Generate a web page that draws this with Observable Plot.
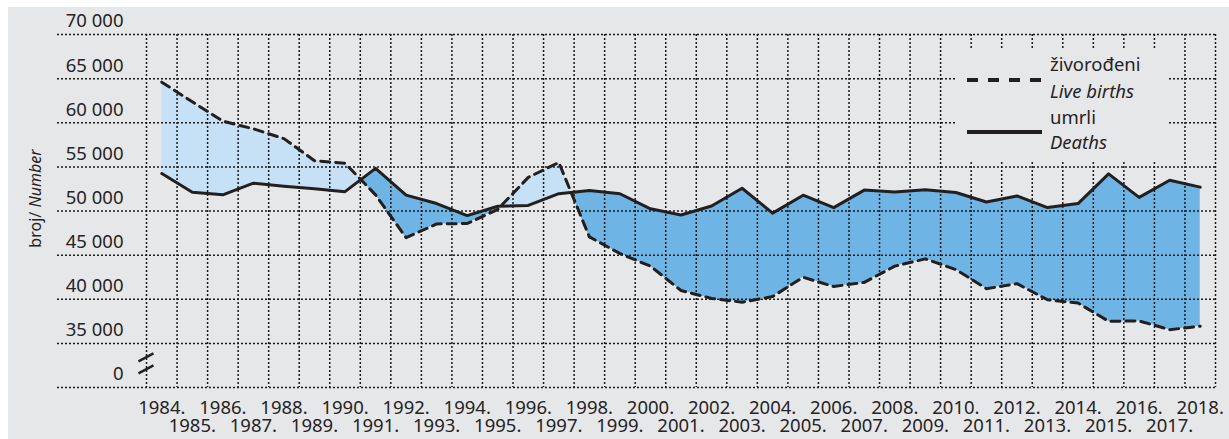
<!DOCTYPE html>
<html><head><meta charset="utf-8">
<script src="https://cdn.jsdelivr.net/npm/d3@7"></script>
<script src="https://cdn.jsdelivr.net/npm/@observablehq/plot@0.6"></script>
<style>
html,body{margin:0;padding:0;background:#fff;}
#wrap{position:absolute;left:8px;top:7px;width:1221px;height:432px;background:#e6e7e9;overflow:hidden;}
#legend{position:absolute;left:949px;top:41px;}
</style></head><body><div id="wrap"></div>
<script>
const years = [1984,1985,1986,1987,1988,1989,1990,1991,1992,1993,1994,1995,1996,1997,1998,1999,2000,2001,2002,2003,2004,2005,2006,2007,2008,2009,2010,2011,2012,2013,2014,2015,2016,2017,2018];
const births = [64600,62370,60180,59310,58200,55700,55409,51829,46970,48535,48584,50182,53811,55501,47068,45179,43746,40993,40094,39668,40307,42492,41446,41910,43753,44577,43361,41197,41771,39939,39566,37503,37537,36556,36945];
const deaths = [54250,52130,51830,53150,52810,52520,52192,54832,51800,50846,49482,50536,50636,51964,52311,51953,50246,49552,50569,52575,49756,51790,50378,52367,52151,52414,52096,51019,51710,50386,50839,54205,51542,53477,52706];
const yTickValues = [0,35000,40000,45000,50000,55000,60000,65000,70000];
const yTickLabels = ["0","35 000","40 000","45 000","50 000","55 000","60 000","65 000","70 000"];
const legendLabels = [["živorođeni","Live births"],["umrli","Deaths"]];
const yTitle = ["broj/ ","Number"];

const FONT = "'Noto Sans', 'Open Sans', sans-serif";
const INK = "#262324";
const W = 1221, H = 432;
const mL = 49, mR = 14, mT = 27, mB = 52;
const firstBound = 138; // pixel of first year boundary
const pxYear = (W - mR - firstBound) / years.length;
const xStart = years[0] - 0.5 - (firstBound - mL) / pxYear;
const BREAK = 30000; // where "0" is drawn (broken axis)
const pos = v => v === 0 ? BREAK : v;

const rows = years.map((y, i) => ({year: y, b: births[i], d: deaths[i]}));
const band = [];
rows.forEach((r, i) => {
  band.push(r);
  const n = rows[i + 1];
  if (n) {
    const s0 = r.b - r.d, s1 = n.b - n.d;
    if (s0 * s1 < 0) {
      const t = s0 / (s0 - s1);
      const v = r.d + t * (n.d - r.d);
      band.push({year: r.year + t, b: v, d: v});
    }
  }
});
const bounds = [...years.map(y => y - 0.5), years[years.length - 1] + 0.5];

const plot = Plot.plot({
  width: W, height: H, marginLeft: mL, marginRight: mR, marginTop: mT, marginBottom: mB,
  style: {background: "transparent", fontFamily: FONT, color: INK, overflow: "visible"},
  x: {domain: [xStart, years[years.length - 1] + 0.5]},
  y: {domain: [BREAK, 70000], axis: null},
  marks: [
    Plot.areaY(band, {x: "year", y1: "d", y2: d => Math.max(d.b, d.d), fill: "#c6e1f5"}),
    Plot.areaY(band, {x: "year", y1: d => Math.min(d.b, d.d), y2: "d", fill: "#6eb4e4"}),
    Plot.ruleY(yTickValues, {y: pos, stroke: "#1a1a1a", strokeWidth: 1.5, strokeDasharray: "2,2"}),
    Plot.ruleX(bounds, {stroke: "#1a1a1a", strokeWidth: 1.5, strokeDasharray: "2,2"}),
    Plot.line(rows, {x: "year", y: "b", stroke: "#231f20", strokeWidth: 3, strokeDasharray: "9,6"}),
    Plot.line(rows, {x: "year", y: "d", stroke: "#231f20", strokeWidth: 3}),
    Plot.text(yTickValues, {y: pos, text: (d, i) => yTickLabels[i], frameAnchor: "left", dx: 66, dy: -13, textAnchor: "end", fontSize: 18.5, fill: INK}),
    Plot.axisX(years.filter((y, i) => i % 2 === 0), {tickSize: 0, tickPadding: 13, tickFormat: d => d + ".", fontSize: 18.5, label: null}),
    Plot.axisX(years.filter((y, i) => i % 2 === 1), {tickSize: 0, tickPadding: 31, tickFormat: d => d + ".", fontSize: 18.5, label: null})
  ]
});
document.getElementById("wrap").appendChild(plot);

// broken-axis marker and y title
const svg = d3.select(plot);
const xs = plot.scale("x"), ys = plot.scale("y");
const cx = xs.apply(bounds[0]);
const cy = (ys.apply(35000) + ys.apply(BREAK)) / 2 - 1.5;
[[-2, -10], [10, 2]].forEach(([a, b]) => {
  svg.append("line").attr("x1", cx - 7.5).attr("y1", cy + a).attr("x2", cx + 7.5).attr("y2", cy + b)
    .attr("stroke", "#231f20").attr("stroke-width", 2.5);
});
const tt = svg.append("text").attr("transform", `translate(27,${ys.apply(50000) - 12}) rotate(-90)`)
  .attr("text-anchor", "middle").attr("dy", "0.35em").attr("font-size", 16).attr("fill", INK)
  .attr("font-family", FONT);
tt.append("tspan").text(yTitle[0]);
tt.append("tspan").attr("font-style", "italic").text(yTitle[1]);

// legend
const lg = d3.select("#wrap").append("svg").attr("id", "legend").attr("width", 212).attr("height", 112)
  .style("font-family", FONT);
lg.append("rect").attr("width", 212).attr("height", 112).attr("fill", "#e6e7e9");
lg.append("line").attr("x1", 10).attr("x2", 85).attr("y1", 32).attr("y2", 32)
  .attr("stroke", "#231f20").attr("stroke-width", 4).attr("stroke-dasharray", "11,10");
lg.append("line").attr("x1", 10).attr("x2", 85).attr("y1", 84).attr("y2", 84)
  .attr("stroke", "#231f20").attr("stroke-width", 4);
const ty = [[17, 44], [70, 95]];
legendLabels.forEach((pair, i) => {
  lg.append("text").attr("x", 93).attr("y", ty[i][0]).attr("dy", "0.35em").attr("font-size", 18.5).attr("fill", INK).text(pair[0]);
  lg.append("text").attr("x", 93).attr("y", ty[i][1]).attr("dy", "0.35em").attr("font-size", 18.5).attr("font-style", "italic").attr("fill", INK).text(pair[1]);
});
</script>
</body></html>
